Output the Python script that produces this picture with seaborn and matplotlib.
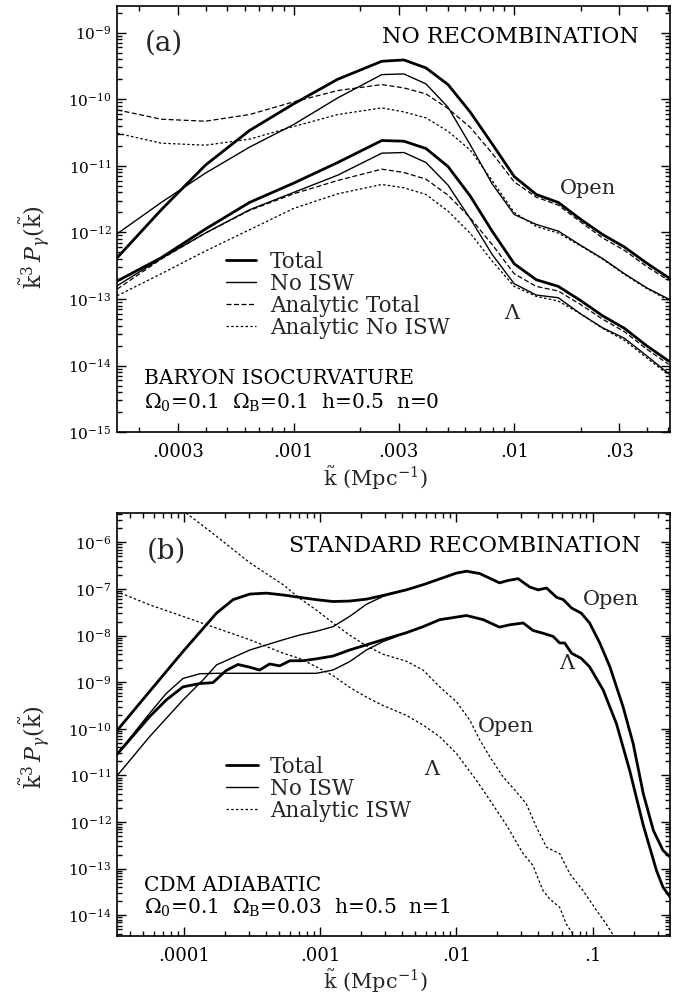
import numpy as np
import pandas as pd
import matplotlib
matplotlib.use("Agg")
import matplotlib.pyplot as plt
import seaborn as sns
from matplotlib.ticker import FixedLocator, FixedFormatter, LogLocator, NullFormatter
from matplotlib.lines import Line2D

# ---------------- Panel (a) data : log10 k~ and log10 k~^3 P_gamma ----------------
a_logk = [-3.80, -3.60, -3.40, -3.20, -3.00, -2.80, -2.60, -2.50, -2.40, -2.30,
          -2.20, -2.10, -2.00, -1.90, -1.80, -1.70, -1.60, -1.50, -1.40, -1.30]
a_open_total = [-12.38, -11.66, -10.99, -10.47, -10.07, -9.70, -9.43, -9.41, -9.53, -9.78,
                -10.19, -10.67, -11.16, -11.43, -11.55, -11.80, -12.03, -12.22, -12.46, -12.68]
a_open_noisw = [-12.02, -11.55, -11.11, -10.72, -10.38, -9.98, -9.63, -9.62, -9.77, -10.12,
                -10.68, -11.27, -11.73, -11.88, -11.98, -12.19, -12.39, -12.62, -12.83, -13.00]
a_open_an_total = [-10.16, -10.30, -10.33, -10.23, -10.04, -9.87, -9.78, -9.83, -9.92, -10.14,
                   -10.42, -10.81, -11.24, -11.47, -11.59, -11.84, -12.08, -12.27, -12.51, -12.72]
a_open_an_noisw = [-10.51, -10.66, -10.69, -10.60, -10.41, -10.23, -10.13, -10.19, -10.28, -10.48,
                   -10.76, -11.22, -11.70, -11.91, -12.01, -12.20, -12.40, -12.63, -12.84, -13.02]
a_lam_total = [-12.73, -12.38, -11.95, -11.55, -11.26, -10.95, -10.62, -10.63, -10.74, -11.01,
               -11.45, -11.98, -12.47, -12.71, -12.81, -13.02, -13.25, -13.44, -13.70, -13.93]
a_lam_noisw = [-12.80, -12.39, -12.01, -11.66, -11.40, -11.14, -10.81, -10.80, -10.95, -11.29,
               -11.79, -12.33, -12.77, -12.94, -12.98, -13.22, -13.43, -13.59, -13.85, -14.12]
a_lam_an_total = [-12.85, -12.40, -12.01, -11.67, -11.42, -11.22, -11.05, -11.10, -11.20, -11.44,
                  -11.78, -12.18, -12.62, -12.81, -12.88, -13.08, -13.30, -13.49, -13.75, -13.98]
a_lam_an_noisw = [-12.95, -12.62, -12.28, -11.96, -11.64, -11.42, -11.28, -11.33, -11.43, -11.68,
                  -12.01, -12.43, -12.81, -12.96, -13.03, -13.22, -13.44, -13.62, -13.88, -14.14]

# ---------------- Panel (b) data ----------------
b_open_total_logk = [-4.497, -4.252, -4.006, -3.761, -3.639, -3.516, -3.394, -3.271, -3.152, -3.029,
                     -2.906, -2.784, -2.661, -2.539, -2.368, -2.245, -2.000, -1.926, -1.829, -1.684,
                     -1.623, -1.548, -1.461, -1.400, -1.339, -1.265, -1.216, -1.155, -1.084, -1.023,
                     -0.948, -0.874, -0.777, -0.703, -0.629, -0.555, -0.484, -0.432]
b_open_total = [-10.06, -9.20, -8.34, -7.52, -7.23, -7.11, -7.09, -7.13, -7.18, -7.23,
                -7.27, -7.26, -7.22, -7.14, -7.02, -6.91, -6.66, -6.62, -6.67, -6.87,
                -6.82, -6.78, -6.96, -7.02, -6.98, -7.18, -7.23, -7.41, -7.52, -7.73,
                -8.16, -8.67, -9.53, -10.32, -11.39, -12.18, -12.61, -12.75]
b_lam_total_logk = [-4.497, -4.252, -4.129, -4.006, -3.884, -3.787, -3.690, -3.603, -3.516, -3.445,
                    -3.371, -3.297, -3.222, -3.126, -3.029, -2.906, -2.784, -2.661, -2.539, -2.368,
                    -2.245, -2.123, -1.926, -1.803, -1.684, -1.610, -1.510, -1.439, -1.365, -1.290,
                    -1.242, -1.206, -1.155, -1.084, -1.023, -0.923, -0.826, -0.729, -0.629, -0.532,
                    -0.484, -0.432]
b_lam_total = [-10.57, -9.74, -9.38, -9.10, -9.03, -9.01, -8.75, -8.62, -8.68, -8.74,
               -8.61, -8.65, -8.54, -8.54, -8.50, -8.44, -8.31, -8.20, -8.09, -7.94,
               -7.81, -7.66, -7.57, -7.66, -7.82, -7.77, -7.73, -7.89, -7.95, -8.02,
               -8.16, -8.16, -8.38, -8.49, -8.67, -9.17, -9.89, -10.89, -12.07, -13.04,
               -13.40, -13.61]
b_open_noisw_logk = [-4.497, -4.252, -4.006, -3.859, -3.761, -3.516, -3.271, -3.152, -3.029, -2.906,
                     -2.784, -2.661, -2.539, -2.439]
b_open_noisw = [-11.03, -10.17, -9.38, -8.95, -8.63, -8.31, -8.09, -7.99, -7.91, -7.81,
                -7.59, -7.33, -7.16, -7.08]
b_lam_noisw_logk = [-4.497, -4.252, -4.129, -4.006, -3.884, -3.761, -3.516, -3.271, -3.029, -2.906,
                    -2.784, -2.661, -2.539, -2.439]
b_lam_noisw = [-10.57, -9.67, -9.24, -8.92, -8.82, -8.81, -8.81, -8.81, -8.81, -8.74,
               -8.56, -8.31, -8.13, -8.02]
b_open_isw_logk = [-3.984, -3.761, -3.516, -3.271, -3.152, -3.029, -2.906, -2.784, -2.661, -2.539,
                   -2.368, -2.245, -2.123, -2.000, -1.903, -1.829, -1.755, -1.658, -1.561, -1.487,
                   -1.413, -1.339, -1.242, -1.168, -1.071, -0.971, -0.900, -0.826]
b_open_isw = [-5.37, -5.87, -6.44, -6.91, -7.20, -7.45, -7.73, -7.99, -8.22, -8.40,
              -8.55, -8.74, -9.10, -9.42, -9.81, -10.24, -10.60, -11.03, -11.35, -11.61,
              -12.11, -12.54, -12.68, -13.11, -13.47, -13.90, -14.19, -14.54]
b_lam_isw_logk = [-4.497, -4.252, -4.006, -3.761, -3.516, -3.271, -3.152, -3.029, -2.906, -2.784,
                  -2.661, -2.539, -2.368, -2.245, -2.123, -2.000, -1.855, -1.755, -1.632, -1.510,
                  -1.439, -1.365, -1.316, -1.242, -1.194, -1.145, -1.119]
b_lam_isw = [-7.05, -7.34, -7.59, -7.84, -8.09, -8.38, -8.49, -8.67, -8.86, -9.11,
             -9.32, -9.50, -9.71, -9.92, -10.17, -10.53, -11.10, -11.53, -12.07, -12.68,
             -12.93, -13.47, -13.65, -13.83, -14.19, -14.40, -14.54]

# tick labels
a_xticks = [3e-4, 1e-3, 3e-3, 1e-2, 3e-2]
a_xticklabels = [".0003", ".001", ".003", ".01", ".03"]
a_yexp = [-15, -14, -13, -12, -11, -10, -9]
b_xticks = [1e-4, 1e-3, 1e-2, 1e-1]
b_xticklabels = [".0001", ".001", ".01", ".1"]
b_yexp = [-14, -13, -12, -11, -10, -9, -8, -7, -6]

# ---------------- style ----------------
sns.set_theme(style="ticks")
plt.rcParams["font.family"] = ["DejaVu Serif"]
plt.rcParams["mathtext.fontset"] = "dejavuserif"
plt.rcParams["axes.linewidth"] = 1.2

THICK = dict(lw=2.0, linestyle="-")
THIN = dict(lw=1.0, linestyle="-")
LDASH = dict(lw=0.9, linestyle=(0, (4, 2)))
SDASH = dict(lw=0.9, linestyle=(0, (2, 1.8)))

fig = plt.figure(figsize=(6.89, 9.96), dpi=100)
ax_a = fig.add_axes([0.170, 0.566, 0.802, 0.428])
ax_b = fig.add_axes([0.170, 0.060, 0.802, 0.425])

for ax in (ax_a, ax_b):
    ax.set_xscale("log")
    ax.set_yscale("log")


def curve(ax, logk, logp, style):
    df = pd.DataFrame({"k": np.power(10.0, np.array(logk)),
                       "p": np.power(10.0, np.array(logp))})
    sns.lineplot(data=df, x="k", y="p", ax=ax, color="black", estimator=None,
                 sort=False, **style)


# panel a curves
for series, st in [(a_open_total, THICK), (a_open_noisw, THIN),
                   (a_open_an_total, LDASH), (a_open_an_noisw, SDASH),
                   (a_lam_total, THICK), (a_lam_noisw, THIN),
                   (a_lam_an_total, LDASH), (a_lam_an_noisw, SDASH)]:
    curve(ax_a, a_logk, series, st)

# panel b curves
curve(ax_b, b_open_total_logk, b_open_total, THICK)
curve(ax_b, b_lam_total_logk, b_lam_total, THICK)
curve(ax_b, b_open_noisw_logk, b_open_noisw, THIN)
curve(ax_b, b_lam_noisw_logk, b_lam_noisw, THIN)
curve(ax_b, b_open_isw_logk, b_open_isw, SDASH)
curve(ax_b, b_lam_isw_logk, b_lam_isw, SDASH)

ax_a.set_xlim(10 ** -3.80, 10 ** -1.295)
ax_a.set_ylim(1e-15, 10 ** -8.6)
ax_b.set_xlim(10 ** -4.49, 10 ** -0.435)
ax_b.set_ylim(10 ** -14.45, 10 ** -5.37)

# ticks
ax_a.xaxis.set_major_locator(FixedLocator(a_xticks))
ax_a.xaxis.set_major_formatter(FixedFormatter(a_xticklabels))
ax_b.xaxis.set_major_locator(FixedLocator(b_xticks))
ax_b.xaxis.set_major_formatter(FixedFormatter(b_xticklabels))
for ax, yexp in ((ax_a, a_yexp), (ax_b, b_yexp)):
    ax.xaxis.set_minor_locator(LogLocator(base=10, subs=np.arange(1, 10), numticks=50))
    ax.xaxis.set_minor_formatter(NullFormatter())
    ax.yaxis.set_major_locator(FixedLocator([10.0 ** e for e in yexp]))
    ax.yaxis.set_major_formatter(FixedFormatter([r"$10^{%d}$" % e for e in yexp]))
    ax.yaxis.set_minor_locator(LogLocator(base=10, subs=np.arange(2, 10), numticks=50))
    ax.yaxis.set_minor_formatter(NullFormatter())
    ax.tick_params(which="both", direction="in", top=True, right=True, width=1.0,
                   colors="black")
    ax.tick_params(which="major", length=6.5)
    ax.tick_params(which="minor", length=3.5)
    ax.tick_params(axis="x", which="major", pad=8, labelsize=13)
    ax.tick_params(axis="y", which="major", pad=4, labelsize=11)
    ax.set_xlabel(r"$\tilde{\rm k}$ (Mpc$^{-1}$)", fontsize=15)
    ax.set_ylabel(r"$\tilde{\rm k}^3\,P_\gamma(\tilde{\rm k})$", fontsize=16)
    for s in ax.spines.values():
        s.set_color("black")

ax_a.xaxis.set_label_coords(0.468, -0.072)
ax_b.xaxis.set_label_coords(0.468, -0.072)
ax_a.yaxis.set_label_coords(-0.118, 0.434)
ax_b.yaxis.set_label_coords(-0.118, 0.447)

TXT = dict(fontsize=14.5, color="black")
HEAD = dict(fontsize=16, color="black")
# panel a annotations
ax_a.text(0.05, 0.912, "(a)", transform=ax_a.transAxes, ha="left", va="center", fontsize=20)
ax_a.text(0.945, 0.928, "NO RECOMBINATION", transform=ax_a.transAxes, ha="right", va="center", **HEAD)
ax_a.text(0.853, 0.572, "Open", transform=ax_a.transAxes, ha="center", va="center", fontsize=15)
ax_a.text(0.714, 0.278, "Λ", transform=ax_a.transAxes, ha="center", va="center", fontsize=15)
ax_a.text(0.048, 0.125, "BARYON ISOCURVATURE", transform=ax_a.transAxes, ha="left", va="center", **TXT)
ax_a.text(0.048, 0.068, r"$\Omega_0$=0.1  $\Omega_{\rm B}$=0.1  h=0.5  n=0",
          transform=ax_a.transAxes, ha="left", va="center", **TXT)

# panel b annotations
ax_b.text(0.053, 0.909, "(b)", transform=ax_b.transAxes, ha="left", va="center", fontsize=20)
ax_b.text(0.948, 0.921, "STANDARD RECOMBINATION", transform=ax_b.transAxes, ha="right", va="center", **HEAD)
ax_b.text(0.893, 0.795, "Open", transform=ax_b.transAxes, ha="center", va="center", fontsize=15)
ax_b.text(0.813, 0.645, "Λ", transform=ax_b.transAxes, ha="center", va="center", fontsize=15)
ax_b.text(0.703, 0.495, "Open", transform=ax_b.transAxes, ha="center", va="center", fontsize=15)
ax_b.text(0.570, 0.393, "Λ", transform=ax_b.transAxes, ha="center", va="center", fontsize=15)
ax_b.text(0.048, 0.121, "CDM ADIABATIC", transform=ax_b.transAxes, ha="left", va="center", **TXT)
ax_b.text(0.048, 0.068, r"$\Omega_0$=0.1  $\Omega_{\rm B}$=0.03  h=0.5  n=1",
          transform=ax_b.transAxes, ha="left", va="center", **TXT)

# legends
def key(st):
    return Line2D([], [], color="black", lw=st["lw"], linestyle=st["linestyle"])

leg_a = ax_a.legend([key(THICK), key(THIN), key(LDASH), key(SDASH)],
                    ["Total", "No ISW", "Analytic Total", "Analytic No ISW"],
                    loc="upper left", bbox_to_anchor=(0.197, 0.426), frameon=False,
                    fontsize=15.5, handlelength=1.4, handletextpad=0.65, labelspacing=0.0,
                    borderpad=0.0, borderaxespad=0.0)
leg_b = ax_b.legend([key(THICK), key(THIN), key(SDASH)],
                    ["Total", "No ISW", "Analytic ISW"],
                    loc="upper left", bbox_to_anchor=(0.197, 0.426), frameon=False,
                    fontsize=15.5, handlelength=1.5, handletextpad=0.55, labelspacing=0.0,
                    borderpad=0.0, borderaxespad=0.0)

fig.savefig("out.png", dpi=100, facecolor="white")
